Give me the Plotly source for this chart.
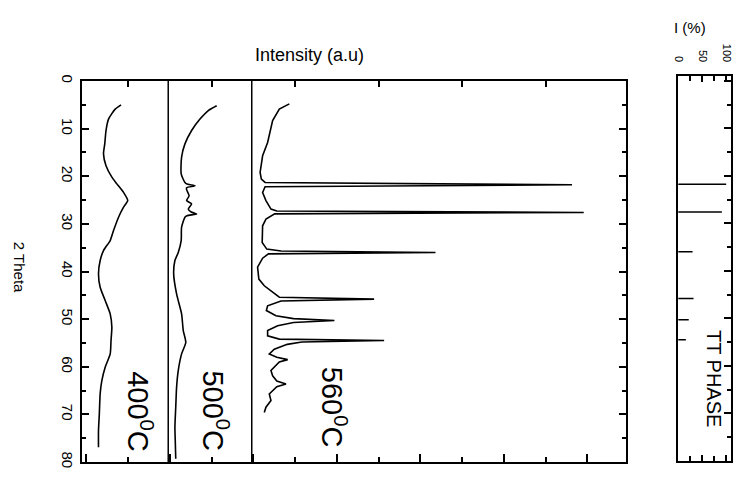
import plotly.graph_objects as go

# ---------------- data ----------------
theta_400 = [5.0, 5.9, 8.0, 10.4, 13.2, 15.3, 17.8, 20.2, 21.6, 23.4, 25.1, 26.5, 28.6,
             31.4, 33.5, 35.6, 37.7, 40.5, 43.3, 46.1, 48.9, 51.7, 54.5, 57.3, 60.1,
             62.9, 65.7, 69.9, 73.4, 76.9]
int_400 = [0.83, 0.69, 0.53, 0.47, 0.44, 0.41, 0.47, 0.61, 0.73, 0.89, 0.99, 0.89, 0.77,
           0.65, 0.57, 0.41, 0.33, 0.29, 0.33, 0.45, 0.57, 0.61, 0.59, 0.57, 0.45,
           0.37, 0.33, 0.31, 0.29, 0.29]

theta_500 = [5.2, 6.2, 8.0, 10.4, 13.2, 16.0, 19.5, 21.3, 21.7, 22.0, 22.4, 22.8, 24.1,
             25.1, 25.8, 26.9, 27.5, 27.9, 28.3, 28.6, 30.7, 33.5, 36.0, 37.7, 40.5,
             44.7, 48.9, 52.4, 54.9, 57.3, 60.8, 64.3, 68.5, 72.7, 76.0, 79.3]
int_500 = [1.16, 0.96, 0.76, 0.56, 0.40, 0.32, 0.31, 0.40, 0.47, 0.64, 0.44, 0.44, 0.50,
           0.44, 0.56, 0.48, 0.55, 0.68, 0.45, 0.40, 0.32, 0.31, 0.24, 0.16, 0.13,
           0.20, 0.32, 0.36, 0.42, 0.32, 0.24, 0.20, 0.18, 0.16, 0.17, 0.18]

theta_560 = [4.8, 5.9, 8.3, 12.9, 15.7, 19.2, 20.6, 21.3, 21.8, 22.2, 23.4, 25.1, 26.9,
             27.3, 27.6, 27.9, 29.0, 30.4, 33.9, 35.3, 35.7, 36.0, 36.3, 37.2, 39.1,
             41.6, 43.0, 44.4, 45.4, 45.8, 46.2, 47.2, 48.2, 49.3, 49.9, 50.3, 50.7,
             51.4, 52.4, 53.5, 54.2, 54.5, 54.8, 55.3, 56.3, 57.3, 58.0, 58.5, 59.0,
             60.8, 61.9, 63.0, 63.6, 64.2, 64.7, 65.7, 67.1, 68.5, 69.6]
int_560 = [0.90, 0.66, 0.50, 0.38, 0.26, 0.20, 0.23, 0.32, 7.67, 0.32, 0.26, 0.34, 0.46,
           0.60, 7.95, 0.55, 0.34, 0.26, 0.25, 0.36, 0.70, 4.40, 0.40, 0.26, 0.14,
           0.17, 0.30, 0.50, 0.66, 2.93, 0.70, 0.38, 0.35, 0.58, 1.00, 1.98, 1.00,
           0.62, 0.38, 0.38, 0.66, 3.17, 1.20, 0.85, 0.54, 0.42, 0.60, 0.86, 0.66,
           0.46, 0.50, 0.60, 0.82, 0.60, 0.54, 0.42, 0.46, 0.34, 0.30]

# stacking offsets of the three patterns (same units as intensity)
offsets = {"400": 0.0, "500": 1.96, "560": 3.96}
dividers = [1.96, 3.96]

# TT phase reference pattern
stick_theta = [21.8, 27.6, 36.0, 45.8, 50.3, 54.5]
stick_I = [100, 91, 30, 32, 22, 16]

labels = {"400": "400<sup>0</sup>C", "500": "500<sup>0</sup>C", "560": "560<sup>0</sup>C"}

# ---------------- figure ----------------
SANS = "Liberation Sans, Arial, sans-serif"

fig = go.Figure()

for key, th, it, shape in [("400", theta_400, int_400, "spline"),
                           ("500", theta_500, int_500, "spline"),
                           ("560", theta_560, int_560, "linear")]:
    fig.add_trace(go.Scatter(
        x=[v + offsets[key] for v in it], y=th, mode="lines",
        line=dict(color="black", width=1.6, shape=shape, smoothing=0.6 if shape == "spline" else None),
        xaxis="x", yaxis="y", showlegend=False, hoverinfo="skip"))

# sticks
sx, sy = [], []
for t, i in zip(stick_theta, stick_I):
    sx += [0, i, None]
    sy += [t, t, None]
fig.add_trace(go.Scatter(x=sx, y=sy, mode="lines", line=dict(color="black", width=1.5),
                         xaxis="x3", yaxis="y3", showlegend=False, hoverinfo="skip"))
# invisible helper so the top-tick axis is drawn
fig.add_trace(go.Scatter(x=[None], y=[None], xaxis="x2", yaxis="y", showlegend=False,
                         hoverinfo="skip", mode="lines"))

# the page body adds an 8px margin; screen coordinates below are converted
BODY = 8
W, H = 727, 464
ml, mr, mt, mb = 74, 2, 68, 10
pw, ph = W - ml - mr, H - mt - mb


def px(xs):
    return (xs - BODY - ml) / pw


def py(ys):
    return (H - mb - (ys - BODY)) / ph


main_dom = [0, px(628)]
right_dom = [px(680), 1]
main_ydom = [0, py(81)]
right_ydom = [py(461), 1]

line_kw = dict(showline=True, linecolor="black", linewidth=2, showgrid=False, zeroline=False)

fig.update_layout(
    width=W, height=H, margin=dict(l=ml, r=mr, t=mt, b=mb),
    paper_bgcolor="white", plot_bgcolor="white",
    font=dict(family=SANS, color="black"),
    xaxis=dict(domain=main_dom, range=[-0.105, 12.93], anchor="y", mirror=True,
               ticks="inside", tickmode="linear", tick0=0, dtick=2, ticklen=8, tickwidth=1.5,
               tickcolor="black",
               minor=dict(ticks="inside", dtick=1, tick0=0, ticklen=5, tickwidth=1.5, tickcolor="black"),
               showticklabels=False, **line_kw),
    xaxis2=dict(overlaying="x", matches="x", side="top", anchor="y", ticks="inside",
                tickmode="linear", tick0=1, dtick=2, ticklen=6, tickwidth=1.5, tickcolor="black",
                showticklabels=False, showline=False, showgrid=False, zeroline=False),
    yaxis=dict(domain=main_ydom, range=[80, 0], anchor="x", mirror="ticks",
               ticks="inside", tickmode="linear", tick0=0, dtick=10, ticklen=7, tickwidth=1.5,
               tickcolor="black",
               minor=dict(ticks="inside", dtick=5, tick0=0, ticklen=4, tickwidth=1.5, tickcolor="black"),
               tickangle=90, tickfont=dict(family=SANS, size=15, color="black"), **line_kw),
    xaxis3=dict(domain=right_dom, range=[0, 110], anchor="y3", side="top", mirror="ticks",
                ticks="inside", tickmode="array", tickvals=[0, 50, 100], ticklen=6, tickwidth=1.5,
                tickcolor="black", ticklabelstandoff=8, ticklabeloverflow="allow",
                minor=dict(ticks="inside", tickvals=[25, 75], ticklen=5, tickwidth=1.5, tickcolor="black"),
                tickangle=90, tickfont=dict(family=SANS, size=11, color="black"), **line_kw),
    yaxis3=dict(domain=right_ydom, range=[80, -1], anchor="x3", side="right", mirror=True,
                ticks="inside", tickmode="linear", tick0=0, dtick=10, ticklen=7, tickwidth=1.5,
                tickcolor="black",
                minor=dict(ticks="inside", dtick=5, tick0=0, ticklen=4, tickwidth=1.5, tickcolor="black"),
                showticklabels=False, **line_kw),
)

for d in dividers:
    fig.add_shape(type="line", x0=d, x1=d, y0=0, y1=1, xref="x", yref="y domain",
                  line=dict(color="black", width=1.5))

ann = []
label_pos = {"400": (140, 412), "500": (216, 411), "560": (335, 407)}
for key, (xs, ys) in label_pos.items():
    ann.append(dict(x=px(xs), y=py(ys), text=labels[key], textangle=90,
                    font=dict(family=SANS, size=29, color="black")))
ann.append(dict(x=px(310), y=py(55), text="Intensity (a.u)",
                font=dict(family=SANS, size=18, color="black")))
ann.append(dict(x=px(20), y=py(267), text="2 Theta", textangle=90,
                font=dict(family=SANS, size=15, color="black")))
ann.append(dict(x=px(716), y=py(378), text="TT PHASE", textangle=90,
                font=dict(family=SANS, size=20, color="black")))
ann.append(dict(x=px(692), y=py(27), text="I (%)",
                font=dict(family=SANS, size=15, color="black")))
for a in ann:
    a.update(xref="paper", yref="paper", xanchor="center", yanchor="middle", showarrow=False)
fig.update_layout(annotations=ann)

fig.write_html("out.html")
